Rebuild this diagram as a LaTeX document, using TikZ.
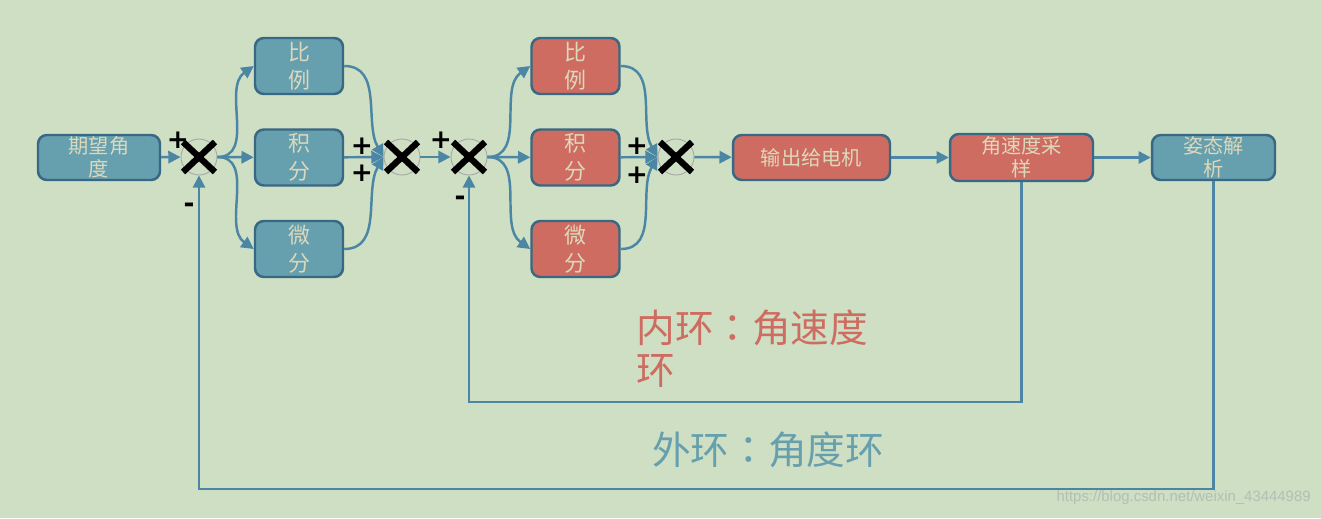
\documentclass[tikz,border=0pt]{standalone}
\usepackage{fontspec}
\newfontfamily\cjk{Noto Sans CJK SC}
\newfontfamily\cjkpunct{Noto Sans CJK TC}
\newfontfamily\urlfont{Liberation Sans}
\newfontfamily\signfont{DejaVu Sans}
\usepackage{xcolor}
\usetikzlibrary{arrows.meta, calc}

\definecolor{bgcol}{HTML}{CEDFC3}
\definecolor{bluefill}{HTML}{669FAD}
\definecolor{redfill}{HTML}{CF6C61}
\definecolor{boxline}{HTML}{386883}
\definecolor{boxtext}{HTML}{DCD8BC}
\definecolor{flowcol}{HTML}{4B87A5}
\definecolor{wmcol}{HTML}{B4BEB4}

\tikzset{
    box/.style={draw=boxline, line width=1.4pt, rounded corners=5pt, text=boxtext,
        font=\cjk\fontsize{11.5}{13}\selectfont, align=center, inner sep=1pt},
    bluebox/.style={box, fill=bluefill},
    redbox/.style={box, fill=redfill},
    pid/.style={minimum width=1.76cm, minimum height=1.12cm, font=\cjk\fontsize{12.5}{16}\selectfont},
    sumnode/.style={circle, draw=gray!70, line width=0.5pt, minimum size=0.72cm, inner sep=0pt},
    xmark/.style={line width=3.6pt, black},
    flow/.style={->, draw=flowcol, line width=1.4pt},
    sign/.style={font=\signfont\bfseries\fontsize{15}{15}\selectfont, inner sep=0pt},
}

\begin{document}
\begin{tikzpicture}[x=0.02cm, y=-0.02cm, >={Triangle[length=7pt,width=7pt]}]
    % Nền
    \path[fill=bgcol] (0,0) rectangle (1321,518);

    % Vòng ngoài
    \node[bluebox, minimum width=2.44cm, minimum height=0.9cm] (ref) at (99,157.5) {期望角\\度};
    \node[sumnode] (sA) at (199,157) {};
    \node[bluebox, pid] (kpA) at (299,66) {比\\例};
    \node[bluebox, pid] (kiA) at (299,157.5) {积\\分};
    \node[bluebox, pid] (kdA) at (299,249) {微\\分};
    \node[sumnode] (sB) at (402,157) {};

    % Vòng trong
    \node[sumnode] (sC) at (469,157) {};
    \node[redbox, pid] (kpB) at (575.5,66) {比\\例};
    \node[redbox, pid] (kiB) at (575.5,157.5) {积\\分};
    \node[redbox, pid] (kdB) at (575.5,249) {微\\分};
    \node[sumnode] (sD) at (676,157) {};
    \node[redbox, minimum width=3.14cm, minimum height=0.9cm] (motor) at (811.5,157.5) {输出给电机};
    \node[redbox, minimum width=2.86cm, minimum height=0.94cm] (gyro) at (1021.5,157.5) {角速度采\\样};
    \node[bluebox, minimum width=2.46cm, minimum height=0.9cm] (att) at (1213.5,157.5) {姿态解\\析};

    % Mũi tên
    \draw[flow] (ref) -- (sA);
    \draw[flow] (sA.east) to[out=0, in=215] (kpA.west);
    \draw[flow] (sA) -- (kiA);
    \draw[flow] (sA.east) to[out=0, in=145] (kdA.west);
    \draw[flow] (kpA.east) to[out=0, in=120] (sB.west);
    \draw[flow] (kiA) -- (sB);
    \draw[flow] (kdA.east) to[out=0, in=240] (sB.west);
    \draw[flow] (sB) -- (sC);
    \draw[flow] (sC.east) to[out=0, in=215] (kpB.west);
    \draw[flow] (sC) -- (kiB);
    \draw[flow] (sC.east) to[out=0, in=145] (kdB.west);
    \draw[flow] (kpB.east) to[out=0, in=120] (sD.west);
    \draw[flow] (kiB) -- (sD);
    \draw[flow] (kdB.east) to[out=0, in=240] (sD.west);
    \draw[flow] (sD) -- (motor);
    \draw[flow] (motor) -- (gyro);
    \draw[flow] (gyro) -- (att);

    % Phản hồi
    \draw[flow] (gyro.south) -- ++(0,220) -| (sC);
    \draw[flow] (att.south) -- ++(0,308) -| (sA);

    % Dấu nhân
    \foreach \s in {sA,sB,sC,sD}
        \draw[xmark] (\s.center) +(-16,-15) -- +(16,15) (\s.center) +(-16,15) -- +(16,-15);

    % Dấu cộng trừ
    \node[sign] (pA) at (178,140) {+};
    \node[sign] (mA) at (189,208) {-};
    \node[sign] (pB1) at (362,146) {+};
    \node[sign] (pB2) at (362,173) {+};
    \node[sign] (pC) at (441,140) {+};
    \node[sign] (mC) at (460,201) {-};
    \node[sign] (pD1) at (637,146) {+};
    \node[sign] (pD2) at (637,175) {+};

    % Nhãn
    \node[font=\cjk\fontsize{22}{24}\selectfont, text=redfill, anchor=north west, align=left, inner sep=0pt]
        (innerlbl) at (636,309) {内环{\cjkpunct ：}角速度\\环};
    \node[font=\cjk\fontsize{22}{24}\selectfont, text=bluefill, inner sep=0pt]
        (outerlbl) at (768,450) {外环{\cjkpunct ：}角度环};
    \node[font=\urlfont\fontsize{8.5}{10}\selectfont, text=wmcol, anchor=east, inner sep=0pt]
        (wm) at (1311,498) {https://blog.csdn.net/weixin\_43444989};
\end{tikzpicture}
\end{document}
